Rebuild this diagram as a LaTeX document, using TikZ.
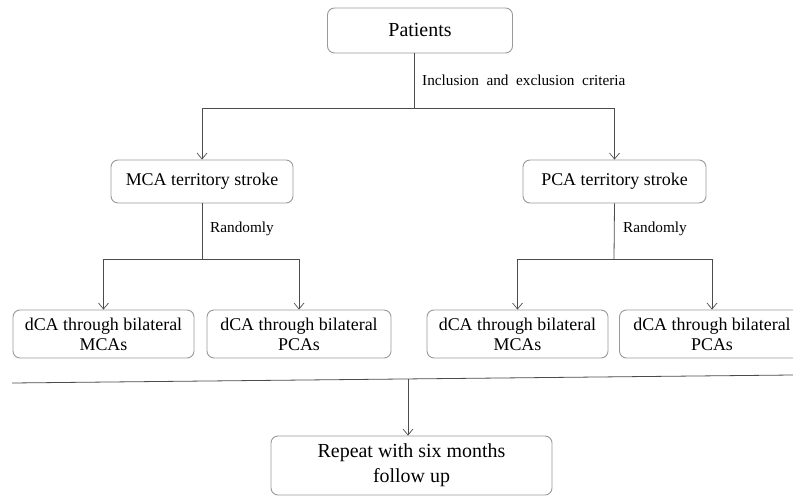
\documentclass[tikz,border=0pt]{standalone}
\usepackage{fontspec}
\setmainfont{Liberation Serif}
\usetikzlibrary{arrows.meta}
\tikzset{
  stepbox/.style={draw=black!40, line width=0.9pt, rounded corners=7pt, fill=white,
    inner sep=0pt, align=center, text=black},
  flow/.style={draw=black!70, line width=0.8pt},
  flowarrow/.style={flow, -{Straight Barb[length=6pt,width=10pt,line width=0.7pt]}},
  lbl/.style={anchor=west, inner sep=0pt, font=\fontsize{15.3}{18}\selectfont, text=black}
}
\begin{document}
\begin{tikzpicture}[x=1bp, y=-1bp]
  \useasboundingbox (0,0) rectangle (793,496);
  \begin{scope}
    \clip (0,0) rectangle (793,496);
    \node[stepbox, minimum width=185bp, minimum height=45bp, font=\fontsize{20}{24}\selectfont] (patients) at (420,30.5) {Patients};
    \node[stepbox, minimum width=182bp, minimum height=43bp, font=\fontsize{18}{21}\selectfont] (mca) at (202,181.5) {MCA territory stroke};
    \node[stepbox, minimum width=183bp, minimum height=43bp, font=\fontsize{18}{21}\selectfont] (pca) at (614.5,181.5) {PCA territory stroke};
    \node[stepbox, minimum width=181bp, minimum height=48bp, font=\fontsize{18}{20}\selectfont] (mcamca) at (103.5,334) {dCA through bilateral\\MCAs};
    \node[stepbox, minimum width=184bp, minimum height=48bp, font=\fontsize{18}{20}\selectfont] (mcapca) at (299,334) {dCA through bilateral\\PCAs};
    \node[stepbox, minimum width=181bp, minimum height=48bp, font=\fontsize{18}{20}\selectfont] (pcamca) at (517.5,334) {dCA through bilateral\\MCAs};
    \node[stepbox, minimum width=185bp, minimum height=48bp, font=\fontsize{18}{20}\selectfont] (pcapca) at (712,334) {dCA through bilateral\\PCAs};
    \node[stepbox, minimum width=281bp, minimum height=59bp, font=\fontsize{20}{25}\selectfont] (repeat) at (411.5,465.5) {Repeat with six months\\follow up};

    % split points
    \coordinate (top) at (414,108);
    \coordinate (left) at (202,259);
    \coordinate (right) at (614,259);
    \coordinate (sepL) at (12,383);
    \coordinate (sepR) at (793,375);
    \coordinate (sepM) at (408,379);

    \draw[flow] (patients.south -| top) -- (top);
    \draw[flowarrow] (top) -| (mca.north);
    \draw[flowarrow] (top) -| (pca.north);
    \node[lbl] (incl) at (422,80) {Inclusion \ and \ exclusion \ criteria};

    \draw[flow] (mca.south) -- (left);
    \draw[flowarrow] (left) -| (mcamca.north);
    \draw[flowarrow] (left) -| (mcapca.north);
    \node[lbl] (randl) at (210,229) {Randomly};

    \draw[flow] (pca.south) -- (right);
    \draw[flowarrow] (right) -| (pcamca.north);
    \draw[flowarrow] (right) -| (pcapca.north);
    \node[lbl] (randr) at (623,229) {Randomly};

    \draw[flow] (sepL) -- (sepR);
    \draw[flowarrow] (sepM) -- (repeat.north -| sepM);
  \end{scope}
\end{tikzpicture}
\end{document}
